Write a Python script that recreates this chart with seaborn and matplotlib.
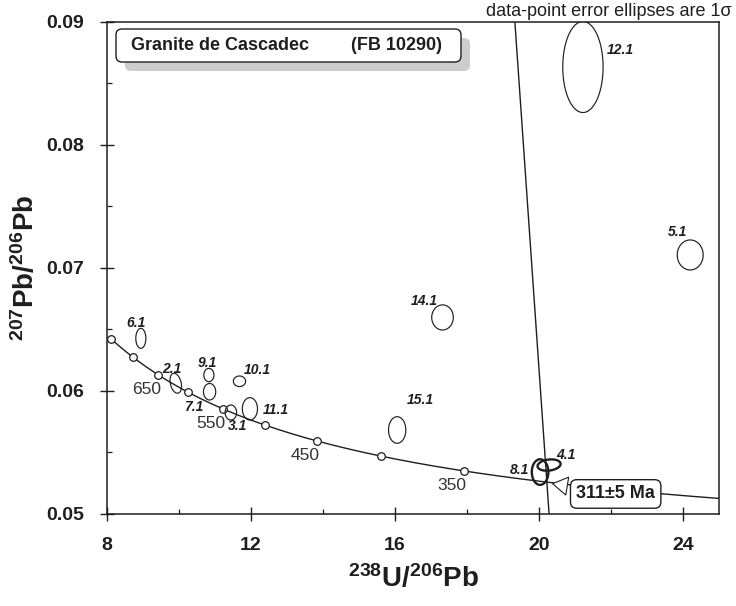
import numpy as np
import pandas as pd
import matplotlib
matplotlib.use("Agg")
import matplotlib.pyplot as plt
from matplotlib.patches import FancyBboxPatch, Polygon
from matplotlib.transforms import IdentityTransform
import seaborn as sns

# ---- SHRIMP zircon spot analyses, Tera-Wasserburg ratios (1 sigma) ----
spots = ["6.1", "2.1", "9.1", "7.1", "10.1", "3.1", "11.1",
         "15.1", "14.1", "8.1", "4.1", "12.1", "5.1"]
u238_pb206 = [8.94, 9.91, 10.83, 10.85, 11.68, 11.44, 11.97,
              16.06, 17.32, 20.03, 20.28, 21.22, 24.20]
u238_err = [0.14, 0.16, 0.14, 0.17, 0.17, 0.16, 0.21,
            0.24, 0.30, 0.23, 0.32, 0.56, 0.36]
pb207_pb206 = [0.06428, 0.06063, 0.06130, 0.05994, 0.06079, 0.05825, 0.05855,
               0.05683, 0.06598, 0.05341, 0.05398, 0.08634, 0.07106]
pb207_err = [0.00081, 0.00081, 0.00054, 0.00067, 0.00043, 0.00061, 0.00091,
             0.00108, 0.00102, 0.00104, 0.00046, 0.00370, 0.00122]
err_corr = [0.0, -0.3, 0.0, 0.0, 0.0, 0.0, 0.0,
            0.0, 0.0, 0.0, 0.2, 0.0, 0.0]

# concordia age marks (Ma) and the ones that carry a label
tick_ages = [750, 700, 650, 600, 550, 500, 450, 400, 350, 300]
labelled_ages = [650, 550, 450, 350]

# discordia chord through the lower intercept
discordia_x = [19.33, 20.28]
discordia_y = [0.09, 0.05]
intercept_text = "311±5 Ma"
intercept_point = (20.30, 0.0525)

# ---- decay constants (Steiger & Jaeger 1977) ----
L238, L235, U_RATIO = 1.55125e-10, 9.8485e-10, 137.88


def tera_wasserburg(age_ma):
    t = np.asarray(age_ma, dtype=float) * 1e6
    e238 = np.expm1(L238 * t)
    e235 = np.expm1(L235 * t)
    return 1.0 / e238, e235 / e238 / U_RATIO


# ---- styling ----
sns.set_theme(style="ticks")
plt.rcParams["font.family"] = ["Liberation Sans", "DejaVu Sans"]
plt.rcParams["mathtext.fontset"] = "custom"
plt.rcParams["mathtext.rm"] = "Liberation Sans"
plt.rcParams["mathtext.bf"] = "Liberation Sans:bold"
INK = "#1e1e1e"
NARROW = ["Liberation Sans Narrow", "Liberation Sans", "DejaVu Sans"]

W, H = 736, 606
fig = plt.figure(figsize=(W / 100, H / 100), dpi=100)
ax = fig.add_axes([107 / W, 92 / H, 612 / W, 492 / H])

# concordia curve
cx, cy = tera_wasserburg(np.linspace(250, 750, 500))
curve = pd.DataFrame({"x": cx, "y": cy})
sns.lineplot(data=curve, x="x", y="y", sort=False, estimator=None,
             color=INK, lw=1.0, ax=ax, zorder=2)

# discordia
sns.lineplot(x=discordia_x, y=discordia_y, sort=False, estimator=None,
             color=INK, lw=1.0, ax=ax, zorder=2)

# age markers along concordia
tx, ty = tera_wasserburg(tick_ages)
marks = pd.DataFrame({"age": tick_ages, "x": tx, "y": ty})
sns.scatterplot(data=marks, x="x", y="y", s=30, color="white",
                edgecolor=INK, linewidth=0.9, ax=ax, zorder=3)
for age in labelled_ages:
    row = marks[marks.age == age].iloc[0]
    ax.annotate(str(age), (row.x, row.y), xytext=(-12, -15),
                textcoords="offset pixels", ha="center", va="center",
                fontsize=12.5, color="#333333")

# error ellipses (1 sigma)
theta = np.linspace(0, 2 * np.pi, 200)
bold_spots = {"8.1", "4.1"}
for name, x, sx, y, sy, r in zip(spots, u238_pb206, u238_err,
                                  pb207_pb206, pb207_err, err_corr):
    ex = x + sx * np.cos(theta)
    ey = y + sy * (r * np.cos(theta) + np.sqrt(1 - r * r) * np.sin(theta))
    ax.add_patch(Polygon(np.column_stack([ex, ey]), closed=True, fill=False,
                         ec=INK, lw=1.7 if name in bold_spots else 0.85,
                         zorder=4))

# spot labels, offsets in pixels from the ellipse centre
label_offsets = {
    "6.1": (-14, 15), "2.1": (-14, 14), "9.1": (-11, 12), "7.1": (-26, -15),
    "10.1": (4, 11), "3.1": (-3, -13), "11.1": (13, -1), "15.1": (10, 30),
    "14.1": (-32, 16), "8.1": (-30, 2), "4.1": (7, 10), "12.1": (24, 17),
    "5.1": (-22, 23),
}
for name, x, y in zip(spots, u238_pb206, pb207_pb206):
    ax.annotate(name, (x, y), xytext=label_offsets[name],
                textcoords="offset pixels", ha="left", va="center",
                fontsize=10, fontweight="bold", fontstyle="italic",
                color=INK, zorder=5)

# intercept age callout
ax.annotate(intercept_text, intercept_point, xytext=(22.13, 0.05163),
            ha="center", va="center", fontsize=13, fontweight="bold",
            color=INK, zorder=6,
            bbox=dict(boxstyle="round,pad=0.32,rounding_size=0.35",
                      fc="white", ec=INK, lw=1.0),
            arrowprops=dict(arrowstyle="wedge,tail_width=1.0",
                            fc="white", ec=INK, lw=0.8))

# axes, ticks
ax.set_xlim(8, 25)
ax.set_ylim(0.05, 0.09)
ax.set_xticks([8, 12, 16, 20, 24])
ax.set_xticks([10, 14, 18, 22], minor=True)
ax.set_yticks([0.05, 0.06, 0.07, 0.08, 0.09])
ax.set_yticks([0.055, 0.065, 0.075, 0.085], minor=True)
ax.set_yticklabels(["0.05", "0.06", "0.07", "0.08", "0.09"])
ax.tick_params(which="major", direction="inout", length=9.5, width=1.0,
               color=INK, pad=12)
ax.tick_params(which="minor", direction="in", length=3.5, width=0.9,
               color=INK)
for lab in ax.get_xticklabels() + ax.get_yticklabels():
    lab.set_fontfamily(NARROW)
    lab.set_fontweight("bold")
    lab.set_fontsize(14)
    lab.set_color(INK)
for side in ("left", "bottom", "top", "right"):
    ax.spines[side].set_visible(True)
    ax.spines[side].set_color(INK)
    ax.spines[side].set_linewidth(1.1)

ax.set_xlabel(r"$\mathbf{^{238}U/^{206}Pb}$", fontsize=20, color=INK)
ax.set_ylabel(r"$\mathbf{^{207}Pb/^{206}Pb}$", fontsize=20, color=INK)
ax.xaxis.set_label_coords(0.5, -0.103)
ax.yaxis.set_label_coords(-0.11, 0.5)

# sample banner with drop shadow
shadow = FancyBboxPatch((125, H - 71), 345, 33,
                        boxstyle="round,pad=0,rounding_size=6",
                        transform=IdentityTransform(), fc="#cdcdcd",
                        ec="none", zorder=5)
banner = FancyBboxPatch((116, H - 62), 345, 33,
                        boxstyle="round,pad=0,rounding_size=6",
                        transform=IdentityTransform(), fc="white",
                        ec=INK, lw=1.0, zorder=6)
fig.add_artist(shadow)
fig.add_artist(banner)
fig.text(131 / W, 1 - 46 / H, "Granite de Cascadec", ha="left", va="center",
         fontsize=13, fontweight="bold", color=INK, zorder=7)
fig.text(351 / W, 1 - 46 / H, "(FB 10290)", ha="left", va="center",
         fontsize=13, fontweight="bold", color=INK, zorder=7)

fig.text(732 / W, 1 - 12 / H, "data-point error ellipses are 1σ",
         ha="right", va="center", fontsize=13, color=INK)

fig.savefig("out.png", dpi=100)
